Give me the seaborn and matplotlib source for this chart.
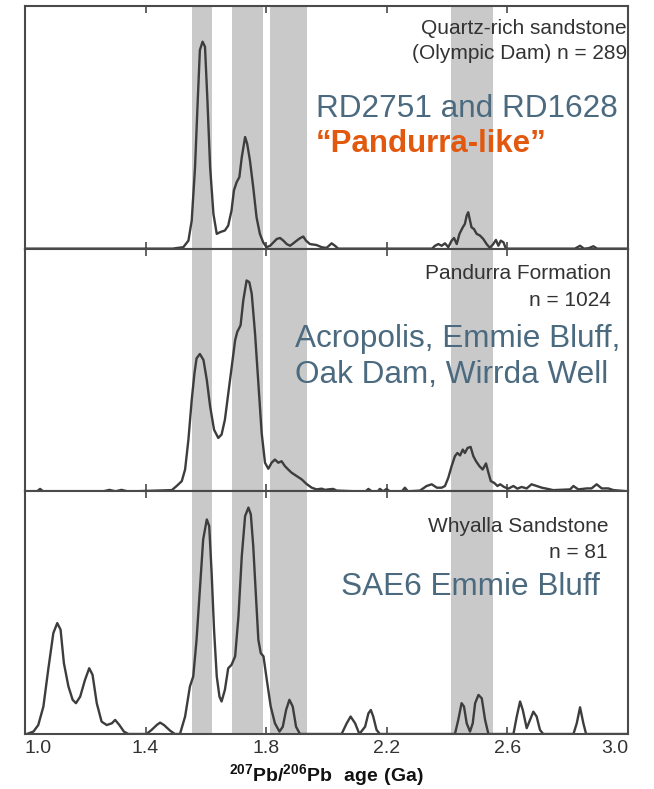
import matplotlib
matplotlib.use("Agg")
import matplotlib.pyplot as plt
import seaborn as sns
import pandas as pd

# ---------------- data ----------------
band_starts = [1.555, 1.686, 1.812, 2.412]
band_ends = [1.620, 1.790, 1.935, 2.553]

tick_values = [1.0, 1.4, 1.8, 2.2, 2.6, 3.0]
tick_labels = ["1.0", "1.4", "1.8", "2.2", "2.6", "3.0"]

ages_top = [1.00, 1.49, 1.50, 1.525, 1.542, 1.553, 1.564, 1.573, 1.580, 1.589, 1.597, 1.605,
            1.614, 1.625, 1.636, 1.647, 1.663, 1.674, 1.685, 1.693, 1.702, 1.711, 1.719, 1.730,
            1.737, 1.746, 1.757, 1.768, 1.779, 1.790, 1.801, 1.813, 1.824, 1.835, 1.846, 1.857,
            1.868, 1.879, 1.890, 1.901, 1.912, 1.923, 1.932, 1.945, 1.967, 1.984, 2.000, 2.017,
            2.028, 2.039, 2.35, 2.360, 2.371, 2.382, 2.393, 2.404, 2.415, 2.423, 2.432, 2.441,
            2.452, 2.459, 2.465, 2.470, 2.476, 2.481, 2.489, 2.498, 2.509, 2.520, 2.531, 2.542,
            2.553, 2.562, 2.570, 2.578, 2.587, 2.595, 2.824, 2.841, 2.854, 2.870, 2.885, 2.898, 3.00]
dens_top = [0, 0, 0.002, 0.006, 0.033, 0.116, 0.336, 0.612, 0.818, 0.853, 0.832, 0.612,
            0.336, 0.143, 0.061, 0.068, 0.075, 0.095, 0.157, 0.240, 0.274, 0.295, 0.377, 0.460,
            0.432, 0.364, 0.253, 0.129, 0.061, 0.026, 0.006, 0.012, 0.026, 0.040, 0.044, 0.033,
            0.019, 0.012, 0.022, 0.033, 0.043, 0.050, 0.033, 0.019, 0.015, 0.006, 0.003, 0.022,
            0.012, 0, 0, 0.012, 0.019, 0.012, 0.022, 0.006, 0.033, 0.044, 0.019, 0.061,
            0.088, 0.102, 0.136, 0.150, 0.116, 0.088, 0.081, 0.061, 0.054, 0.040, 0.019, 0.003,
            0.019, 0.036, 0.012, 0.033, 0.026, 0, 0, 0.012, 0, 0.002, 0.010, 0, 0]

ages_mid = [1.00, 1.04, 1.05, 1.06, 1.26, 1.28, 1.30, 1.32, 1.34, 1.36, 1.487, 1.503, 1.520,
            1.531, 1.542, 1.553, 1.562, 1.569, 1.580, 1.592, 1.603, 1.614, 1.627, 1.641, 1.652,
            1.663, 1.680, 1.697, 1.704, 1.715, 1.724, 1.735, 1.744, 1.752, 1.763, 1.774, 1.785,
            1.796, 1.807, 1.818, 1.829, 1.840, 1.851, 1.862, 1.873, 1.884, 1.901, 1.918, 1.934,
            1.951, 1.967, 1.984, 1.995, 2.006, 2.022, 2.034, 2.10, 2.130, 2.139, 2.150, 2.170,
            2.177, 2.188, 2.199, 2.210, 2.25, 2.260, 2.270, 2.310, 2.332, 2.349, 2.366, 2.382,
            2.393, 2.404, 2.415, 2.426, 2.434, 2.443, 2.452, 2.459, 2.468, 2.478, 2.487, 2.496,
            2.507, 2.518, 2.529, 2.537, 2.545, 2.556, 2.567, 2.576, 2.589, 2.603, 2.620, 2.633,
            2.647, 2.664, 2.680, 2.697, 2.714, 2.730, 2.752, 2.808, 2.819, 2.835, 2.863, 2.879,
            2.896, 2.913, 2.935, 2.952, 3.00]
dens_mid = [0, 0, 0.010, 0, 0, 0.006, 0, 0.006, 0, 0, 0.005, 0.022, 0.042,
            0.090, 0.213, 0.377, 0.486, 0.548, 0.566, 0.541, 0.459, 0.350, 0.254, 0.220, 0.234,
            0.295, 0.459, 0.623, 0.657, 0.684, 0.787, 0.869, 0.862, 0.814, 0.650, 0.445, 0.240,
            0.118, 0.093, 0.118, 0.131, 0.118, 0.124, 0.104, 0.090, 0.077, 0.063, 0.049, 0.030,
            0.015, 0.008, 0.011, 0.006, 0.008, 0.010, 0.003, 0, 0, 0.010, 0, 0,
            0.010, 0, 0.010, 0, 0, 0.015, 0, 0.003, 0.022, 0.029, 0.015, 0.015,
            0.022, 0.056, 0.104, 0.145, 0.158, 0.148, 0.172, 0.158, 0.179, 0.183, 0.145, 0.124,
            0.104, 0.090, 0.115, 0.077, 0.042, 0.035, 0.022, 0.029, 0.018, 0.011, 0.022, 0.011,
            0.018, 0.012, 0.029, 0.022, 0.015, 0.011, 0.005, 0.008, 0.022, 0.008, 0.012, 0.012,
            0.029, 0.012, 0.012, 0.005, 0]

ages_bot = [1.00, 1.006, 1.028, 1.044, 1.061, 1.077, 1.094, 1.107, 1.118, 1.129, 1.144, 1.158,
            1.169, 1.183, 1.199, 1.213, 1.224, 1.238, 1.254, 1.271, 1.288, 1.299, 1.313, 1.328,
            1.343, 1.403, 1.420, 1.437, 1.448, 1.461, 1.481, 1.497, 1.514, 1.531, 1.547, 1.558,
            1.569, 1.580, 1.591, 1.603, 1.611, 1.619, 1.627, 1.636, 1.645, 1.652, 1.663, 1.674,
            1.685, 1.697, 1.708, 1.719, 1.730, 1.741, 1.749, 1.757, 1.766, 1.774, 1.782, 1.791,
            1.802, 1.815, 1.829, 1.844, 1.855, 1.866, 1.877, 1.888, 1.899, 1.912, 2.050, 2.067,
            2.080, 2.095, 2.109, 2.128, 2.139, 2.147, 2.155, 2.166, 2.177, 2.426, 2.437, 2.448,
            2.456, 2.465, 2.476, 2.485, 2.493, 2.504, 2.515, 2.526, 2.537, 2.620, 2.631, 2.642,
            2.651, 2.664, 2.675, 2.686, 2.697, 2.708, 2.719, 2.819, 2.830, 2.841, 2.852, 2.861, 3.00]
dens_bot = [0, 0, 0.010, 0.037, 0.113, 0.265, 0.416, 0.457, 0.430, 0.292, 0.196, 0.141,
            0.127, 0.154, 0.223, 0.271, 0.244, 0.127, 0.051, 0.037, 0.044, 0.058, 0.037, 0.010,
            0, 0, 0.017, 0.037, 0.047, 0.037, 0.014, 0, 0, 0.072, 0.196, 0.237,
            0.388, 0.595, 0.802, 0.884, 0.857, 0.664, 0.430, 0.237, 0.154, 0.134, 0.182, 0.271,
            0.285, 0.320, 0.485, 0.733, 0.898, 0.933, 0.905, 0.774, 0.568, 0.388, 0.333, 0.320,
            0.223, 0.113, 0.044, 0.010, 0.030, 0.099, 0.141, 0.113, 0.030, 0, 0, 0.044,
            0.072, 0.044, 0, 0.030, 0.085, 0.099, 0.072, 0.017, 0, 0, 0.058, 0.127,
            0.113, 0.044, 0.010, 0.044, 0.127, 0.161, 0.147, 0.058, 0, 0, 0.072, 0.134,
            0.099, 0.024, 0.058, 0.092, 0.072, 0.017, 0, 0, 0.044, 0.110, 0.044, 0, 0]

panel_ages = [ages_top, ages_mid, ages_bot]
panel_dens = [dens_top, dens_mid, dens_bot]
panel_labels = [["Quartz-rich sandstone", "(Olympic Dam) n = 289"],
                ["Pandurra Formation", "n = 1024"],
                ["Whyalla Sandstone", "n = 81"]]
panel_notes = [["RD2751 and RD1628", "\u201cPandurra-like\u201d"],
               ["Acropolis, Emmie Bluff,", "Oak Dam, Wirrda Well"],
               ["SAE6 Emmie Bluff"]]

# ---------------- style ----------------
sns.set_style("white")
plt.rcParams["font.family"] = ["Liberation Sans", "DejaVu Sans"]
plt.rcParams["mathtext.fontset"] = "custom"
plt.rcParams["mathtext.rm"] = "Liberation Sans"
plt.rcParams["mathtext.bf"] = "Liberation Sans:bold"

LINE = "#3d3d3d"
SPINE = "#4a4a4a"
BAND = "#c9c9c9"
BLUE = "#4b6a7f"
ORANGE = "#e2580f"
GREY_TXT = "#333333"

fig, axes = plt.subplots(3, 1, figsize=(6.54, 7.89), dpi=100, sharex=True)
fig.subplots_adjust(left=25 / 654, right=628 / 654, top=1 - 6 / 789,
                    bottom=1 - 734 / 789, hspace=0)

# label positions (axes fraction)
label_x = [0.998, 0.972, 0.967]
label_y = [[0.909, 0.806], [0.898, 0.787], [0.855, 0.748]]
note_x = [0.4826, 0.448, 0.524]
note_y = [[0.575, 0.430], [0.627, 0.480], [0.607]]

for i, ax in enumerate(axes):
    for s, e in zip(band_starts, band_ends):
        ax.axvspan(s, e, color=BAND, lw=0, zorder=0)
    df = pd.DataFrame({"age": panel_ages[i], "density": panel_dens[i]})
    sns.lineplot(data=df, x="age", y="density", ax=ax, color=LINE, linewidth=1.7,
                 estimator=None, sort=False, zorder=3)
    ax.set_xlim(1.0, 3.0)
    ax.set_ylim(0, 1.0)
    ax.set_yticks([])
    ax.set_ylabel("")
    ax.set_xlabel("")
    ax.set_xticks(tick_values)
    ax.tick_params(axis="x", direction="in", top=True, bottom=True, length=5,
                   width=1.2, color=SPINE, labelbottom=False)
    for sp in ax.spines.values():
        sp.set_color(SPINE)
        sp.set_linewidth(1.5)
        sp.set_zorder(4)

    for j, txt in enumerate(panel_labels[i]):
        ax.text(label_x[i], label_y[i][j], txt, transform=ax.transAxes, ha="right",
                va="center", fontsize=15, color=GREY_TXT)
    for j, txt in enumerate(panel_notes[i]):
        if i == 0 and j == 1:
            ax.text(note_x[i], note_y[i][j], txt, transform=ax.transAxes, ha="left",
                    va="center", fontsize=22.5, color=ORANGE, fontweight="bold")
        else:
            ax.text(note_x[i], note_y[i][j], txt, transform=ax.transAxes, ha="left",
                    va="center", fontsize=22.7, color=BLUE)

axb = axes[-1]
axb.set_xticklabels(tick_labels)
axb.tick_params(axis="x", labelbottom=True, labelsize=14, labelcolor=GREY_TXT, pad=4)
xt = axb.get_xticklabels()
xt[0].set_horizontalalignment("left")
xt[-1].set_horizontalalignment("right")
axb.set_xlabel(r"$\mathbf{{}^{207}Pb/{}^{206}Pb\ \ age\ (Ga)}$", fontsize=14,
               color="#111111", labelpad=4)

fig.savefig("out.png", dpi=100)
